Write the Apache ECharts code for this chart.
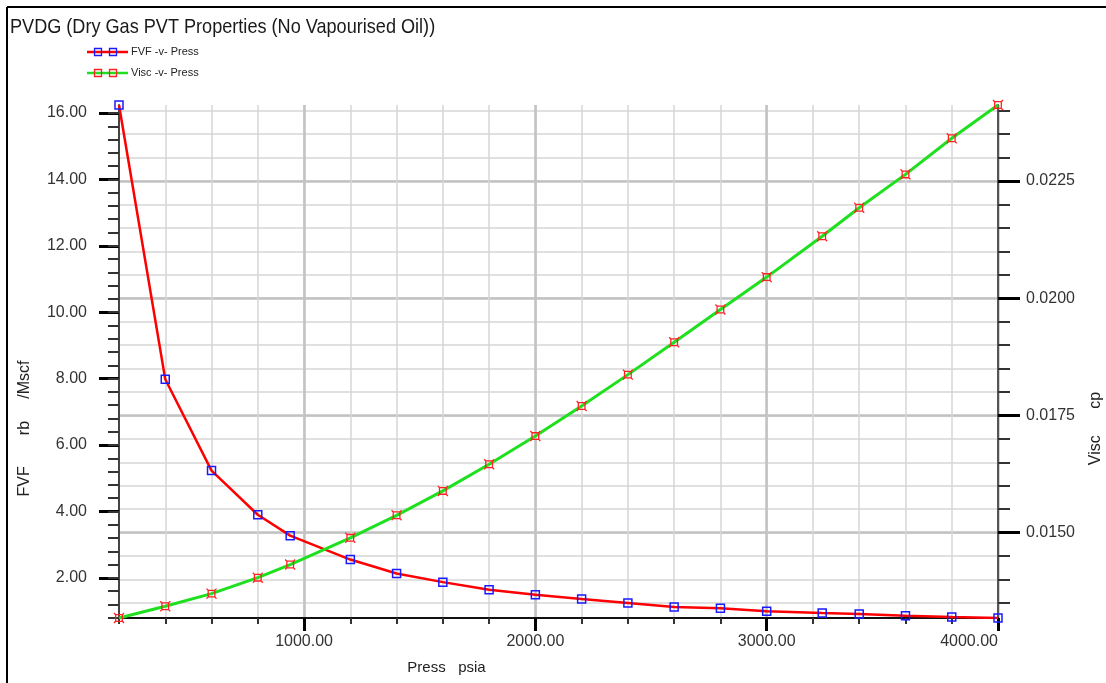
<!DOCTYPE html>
<html>
<head>
<meta charset="utf-8">
<title>PVDG</title>
<script src="https://cdn.jsdelivr.net/npm/echarts@6/dist/echarts.min.js"></script>
<style>
  html, body { margin: 0; padding: 0; background: #ffffff; }
  #chart { width: 1106px; height: 683px; }
</style>
</head>
<body>
<div id="chart"></div>
<script>
// PVDG table: pressure (psia), gas formation volume factor (rb/Mscf), gas viscosity (cP)
const press = [200, 400, 600, 800, 940, 1200, 1400, 1600, 1800, 2000,
               2200, 2400, 2600, 2800, 3000, 3240, 3400, 3600, 3800, 4000];
const fvf = [16.24, 7.98, 5.23, 3.90, 3.27, 2.55, 2.13, 1.87, 1.64, 1.49,
             1.36, 1.24, 1.12, 1.08, 0.99, 0.94, 0.91, 0.86, 0.82, 0.79];
const visc = [0.01318, 0.01343, 0.01370, 0.01404, 0.01432, 0.01489, 0.01537, 0.01589, 0.01646, 0.01706,
              0.01770, 0.01837, 0.01906, 0.01976, 0.02045, 0.02132, 0.02193, 0.02264, 0.02341, 0.02412];

// Tick positions
const pressMajorTicks = [1000, 2000, 3000, 4000];
const pressMinorTicks = [200, 400, 600, 800, 1000, 1200, 1400, 1600, 1800, 2000,
                         2200, 2400, 2600, 2800, 3000, 3200, 3400, 3600, 3800, 4000];
const fvfMajorTicks = [2, 4, 6, 8, 10, 12, 14, 16];
const fvfMinorTicks = [0.8, 1.2, 1.6, 2.0, 2.4, 2.8, 3.2, 3.6, 4.0, 4.4, 4.8, 5.2, 5.6, 6.0,
                       6.4, 6.8, 7.2, 7.6, 8.0, 8.4, 8.8, 9.2, 9.6, 10.0, 10.4, 10.8, 11.2,
                       11.6, 12.0, 12.4, 12.8, 13.2, 13.6, 14.0, 14.4, 14.8, 15.2, 15.6, 16.0];
const viscMajorTicks = [0.0150, 0.0175, 0.0200, 0.0225];
const viscMinorTicks = [0.0135, 0.0140, 0.0145, 0.0150, 0.0155, 0.0160, 0.0165, 0.0170,
                        0.0175, 0.0180, 0.0185, 0.0190, 0.0195, 0.0200, 0.0205, 0.0210,
                        0.0215, 0.0220, 0.0225, 0.0230, 0.0235, 0.0240];

const FONT = '"Liberation Sans", Arial, sans-serif';
const RED = '#ff0000';
const GREEN = '#1fe01f';
const BLUE = '#1a1aff';
const MARK_RED = '#ff2020';

// hollow square with little corner spurs
const VISC_SYMBOL = 'path://M2,2L10,2L10,10L2,10Z M0,0L2,2 M12,0L10,2 M0,12L2,10 M12,12L10,10';

const xRange = { min: Math.min(...press), max: Math.max(...press) };
const fvfRange = { min: Math.min(...fvf), max: Math.max(...fvf) };
const viscRange = { min: Math.min(...visc), max: Math.max(...visc) };

const minorTickLine = { color: '#333333', width: 2 };
const majorTickLine = { color: '#000000', width: 3 };

const chart = echarts.init(document.getElementById('chart'), null, { renderer: 'canvas' });

chart.setOption({
  backgroundColor: '#ffffff',
  animation: false,
  grid: { left: 119, right: 108, top: 105, bottom: 65, containLabel: false, outerBoundsMode: 'none' },
  xAxis: [
    {
      type: 'value', position: 'bottom', min: xRange.min, max: xRange.max,
      axisLine: { show: true, onZero: false, lineStyle: { color: '#111111', width: 2 } },
      axisTick: { show: true, customValues: pressMinorTicks, length: 6, lineStyle: minorTickLine },
      axisLabel: { show: false },
      splitLine: { show: true, lineStyle: { color: '#d6d6d6', width: 1.5 } }
    },
    {
      type: 'value', position: 'bottom', min: xRange.min, max: xRange.max,
      axisLine: { show: false, onZero: false },
      axisTick: { show: true, customValues: pressMajorTicks, length: 13, lineStyle: majorTickLine },
      axisLabel: {
        show: true, customValues: pressMajorTicks, margin: 16, fontSize: 16, color: '#333333',
        fontFamily: FONT, alignMaxLabel: 'right', formatter: v => v.toFixed(2)
      },
      splitLine: { show: true, lineStyle: { color: '#c2c2c2', width: 2.5 } },
      name: 'Press   psia', nameLocation: 'middle', nameGap: 42,
      nameTextStyle: { fontSize: 15, color: '#222222', fontFamily: FONT, padding: [0, 224, 0, 0] }
    }
  ],
  yAxis: [
    {
      type: 'value', position: 'left', min: fvfRange.min, max: fvfRange.max,
      axisLine: { show: true, onZero: false, lineStyle: { color: '#444444', width: 2 } },
      axisTick: { show: true, customValues: fvfMajorTicks, length: 20, lineStyle: majorTickLine },
      axisLabel: {
        show: true, customValues: fvfMajorTicks, margin: 32, fontSize: 16, color: '#333333',
        fontFamily: FONT, formatter: v => v.toFixed(2)
      },
      splitLine: { show: false },
      name: 'FVF       rb     /Mscf', nameLocation: 'middle', nameGap: 86, nameRotate: 90,
      nameTextStyle: { fontSize: 16, color: '#222222', fontFamily: FONT, padding: [0, 134, 0, 0] }
    },
    {
      type: 'value', position: 'left', min: fvfRange.min, max: fvfRange.max,
      axisLine: { show: false, onZero: false },
      axisTick: { show: true, customValues: fvfMinorTicks, length: 11, lineStyle: minorTickLine },
      axisLabel: { show: false },
      splitLine: { show: false }
    },
    {
      type: 'value', position: 'right', min: viscRange.min, max: viscRange.max,
      axisLine: { show: true, onZero: false, lineStyle: { color: '#555555', width: 2 } },
      axisTick: { show: true, customValues: viscMinorTicks, length: 12, lineStyle: minorTickLine },
      axisLabel: { show: false },
      splitLine: { show: true, lineStyle: { color: '#d6d6d6', width: 1.5 } }
    },
    {
      type: 'value', position: 'right', min: viscRange.min, max: viscRange.max,
      axisLine: { show: false, onZero: false },
      axisTick: { show: true, customValues: viscMajorTicks, length: 22, lineStyle: majorTickLine },
      axisLabel: {
        show: true, customValues: viscMajorTicks, margin: 28, fontSize: 16, color: '#333333',
        fontFamily: FONT, formatter: v => v.toFixed(4)
      },
      splitLine: { show: true, lineStyle: { color: '#c2c2c2', width: 2.5 } },
      name: 'Visc      cp', nameLocation: 'middle', nameGap: 90, nameRotate: 90,
      nameTextStyle: { fontSize: 16, color: '#222222', fontFamily: FONT, padding: [0, 134, 0, 0] }
    }
  ],
  series: [
    {
      name: 'FVF -v- Press', type: 'line', xAxisIndex: 0, yAxisIndex: 0,
      data: press.map((p, i) => [p, fvf[i]]),
      smooth: false,
      lineStyle: { color: RED, width: 2.5 },
      symbol: 'rect', symbolSize: 8, showAllSymbol: true,
      itemStyle: { color: 'rgba(0,0,0,0)', borderColor: BLUE, borderWidth: 1.5 },
      emphasis: { disabled: true }, silent: true, z: 3
    },
    {
      name: 'Visc -v- Press', type: 'line', xAxisIndex: 0, yAxisIndex: 2,
      data: press.map((p, i) => [p, visc[i]]),
      smooth: false,
      lineStyle: { color: GREEN, width: 3 },
      symbol: VISC_SYMBOL, symbolSize: 10, showAllSymbol: true,
      itemStyle: { color: 'rgba(0,0,0,0)', borderColor: MARK_RED, borderWidth: 1.3 },
      emphasis: { disabled: true }, silent: true, z: 4
    }
  ],
  graphic: [
    // frame
    { type: 'line', shape: { x1: 7, y1: 7, x2: 1106, y2: 7 }, style: { stroke: '#000', lineWidth: 2 }, silent: true },
    { type: 'line', shape: { x1: 7, y1: 7, x2: 7, y2: 683 }, style: { stroke: '#000', lineWidth: 2 }, silent: true },
    // heading (condensed)
    {
      type: 'text', x: 10, y: 27, scaleX: 0.862, silent: true,
      style: {
        text: 'PVDG (Dry Gas PVT Properties (No Vapourised Oil))',
        fontSize: 21, fontFamily: FONT, fill: '#1a1a1a', verticalAlign: 'middle'
      }
    },
    // key: FVF
    { type: 'line', shape: { x1: 87, y1: 52, x2: 128, y2: 52 }, style: { stroke: RED, lineWidth: 2.5 }, silent: true },
    { type: 'rect', shape: { x: 94.5, y: 48.5, width: 7, height: 7 }, style: { fill: 'none', stroke: BLUE, lineWidth: 1.3 }, silent: true },
    { type: 'rect', shape: { x: 109.5, y: 48.5, width: 7, height: 7 }, style: { fill: 'none', stroke: BLUE, lineWidth: 1.3 }, silent: true },
    { type: 'text', x: 131, y: 52, style: { text: 'FVF -v- Press', fontSize: 11, fontFamily: FONT, fill: '#222', verticalAlign: 'middle' }, silent: true },
    // key: Visc
    { type: 'line', shape: { x1: 87, y1: 73, x2: 128, y2: 73 }, style: { stroke: GREEN, lineWidth: 2.5 }, silent: true },
    { type: 'rect', shape: { x: 94.5, y: 69.5, width: 7, height: 7 }, style: { fill: 'none', stroke: MARK_RED, lineWidth: 1.3 }, silent: true },
    { type: 'rect', shape: { x: 109.5, y: 69.5, width: 7, height: 7 }, style: { fill: 'none', stroke: MARK_RED, lineWidth: 1.3 }, silent: true },
    { type: 'text', x: 131, y: 73, style: { text: 'Visc -v- Press', fontSize: 11, fontFamily: FONT, fill: '#222', verticalAlign: 'middle' }, silent: true }
  ]
});
</script>
</body>
</html>
